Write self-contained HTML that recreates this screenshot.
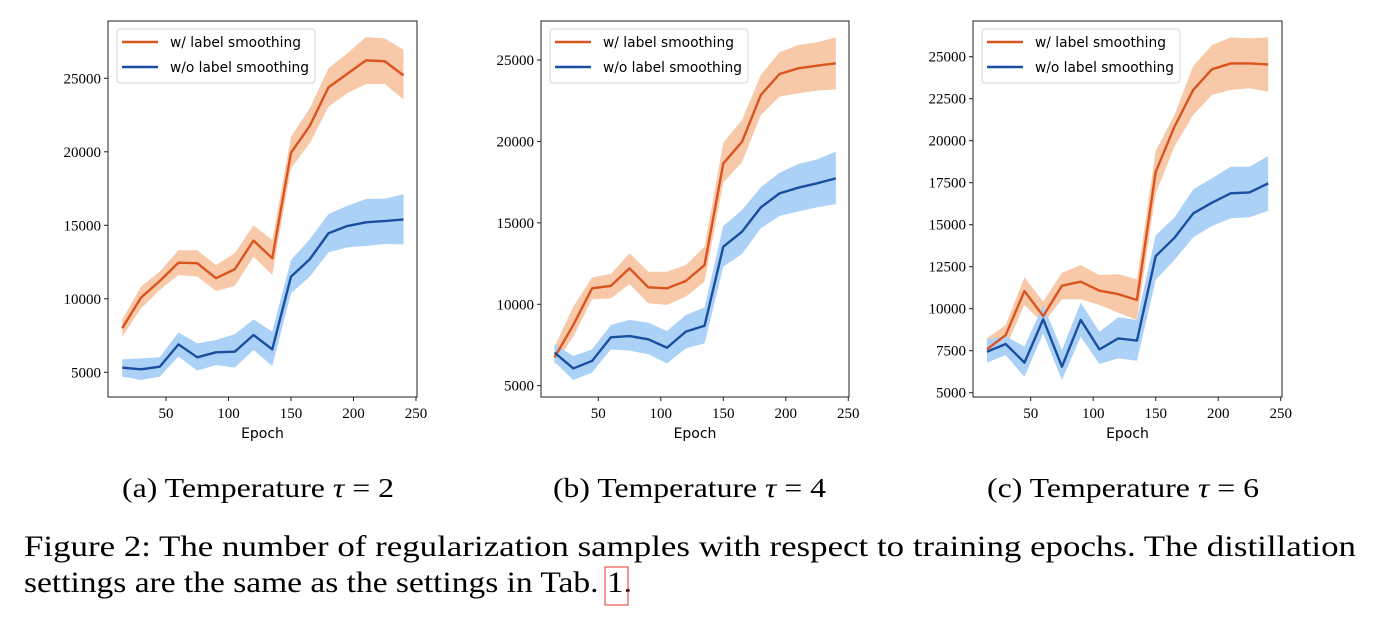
<!DOCTYPE html>
<html><head><meta charset="utf-8">
<style>
html,body{margin:0;padding:0;background:#fff;}
svg{display:block;}
.tick{font-family:"Liberation Serif",serif;font-size:15px;fill:#000;}
.sans{font-family:"DejaVu Sans","Liberation Sans",sans-serif;fill:#000;}
.cap{font-family:"Liberation Serif",serif;fill:#000;}
</style></head>
<body>
<svg id="fig" width="1390" height="626" viewBox="0 0 1390 626" xmlns="http://www.w3.org/2000/svg">
<text class="cap" x="122" y="497" font-size="27" textLength="272" lengthAdjust="spacingAndGlyphs">(a) Temperature <tspan font-style="italic">τ</tspan> = 2</text>
<text class="cap" x="553" y="497" font-size="27" textLength="273" lengthAdjust="spacingAndGlyphs">(b) Temperature <tspan font-style="italic">τ</tspan> = 4</text>
<text class="cap" x="987" y="497" font-size="27" textLength="272" lengthAdjust="spacingAndGlyphs">(c) Temperature <tspan font-style="italic">τ</tspan> = 6</text>
<text class="cap" x="24" y="556" font-size="30" textLength="1332" lengthAdjust="spacingAndGlyphs">Figure 2:  The number of regularization samples with respect to training epochs.  The distillation</text>
<text class="cap" x="24" y="592" font-size="30" textLength="608" lengthAdjust="spacingAndGlyphs">settings are the same as the settings in Tab. 1.</text>
<rect x="605" y="567" width="23" height="38" fill="none" stroke="#e8302a" stroke-width="1"/>
</svg>
<script>
// shared epochs
const epochs = [15,30,45,60,75,90,105,120,135,150,165,180,195,210,225,240];
const xTicks = [50,100,150,200,250];
const seriesNames = ["w/ label smoothing","w/o label smoothing"];
// chart a (tau=2)
const aTicks = [5000,10000,15000,20000,25000];
const aWMean = [8000,10080,11210,12460,12420,11400,12010,13960,12760,19940,21760,24390,25300,26220,26160,25200];
const aWHigh = [8600,10830,11850,13300,13300,12300,13100,15000,14000,21030,22960,25680,26700,27800,27720,26930];
const aWLow  = [7420,9350,10600,11620,11510,10530,10870,12870,11620,18880,20580,23070,23980,24610,24610,23570];
const aOMean = [5320,5200,5380,6900,6020,6360,6400,7540,6560,11510,12690,14460,14950,15200,15290,15400];
const aOHigh = [5880,5950,6020,7720,6970,7200,7590,8600,7770,12640,14050,15770,16320,16790,16810,17110];
const aOLow  = [4710,4480,4710,6070,5110,5500,5320,6520,5430,10370,11510,13160,13500,13590,13730,13700];
// chart b (tau=4)
const bTicks = [5000,10000,15000,20000,25000];
const bWMean = [6740,8730,10980,11130,12210,11040,10980,11430,12410,18650,19980,22850,24140,24490,24650,24800];
const bWHigh = [7400,9850,11650,11860,13130,12000,12000,12410,13540,19920,21320,24080,25470,25920,26080,26390];
const bWLow  = [6270,8010,10300,10360,11240,10060,9960,10470,11390,17470,18720,21620,22750,22950,23120,23200];
const bOMean = [7030,6060,6520,7970,8050,7850,7330,8320,8680,13540,14460,15950,16810,17160,17430,17730];
const bOHigh = [7540,6820,7230,8730,9040,8870,8360,9340,9810,14810,15790,17180,18080,18610,18900,19370];
const bOLow  = [6470,5350,5800,7230,7150,6940,6370,7290,7600,12310,13090,14670,15430,15700,15950,16160];
// chart c (tau=6)
const cTicks = [5000,7500,10000,12500,15000,17500,20000,22500,25000];
const cWMean = [7580,8430,11050,9560,11370,11610,11070,10870,10520,18150,20830,23020,24250,24600,24600,24540];
const cWHigh = [8230,9030,11870,10420,12140,12600,12000,12060,11750,19400,21530,24440,25690,26150,26090,26150];
const cWLow  = [7100,7700,10220,9130,10560,10560,10220,9770,9330,16860,19640,21530,22720,23020,23120,22920];
const cOMean = [7440,7900,6790,9370,6550,9330,7580,8230,8100,13130,14220,15670,16310,16870,16920,17460];
const cOHigh = [8170,8370,7740,10220,7540,10360,8630,9490,9330,14380,15430,17100,17760,18450,18450,19090];
const cOLow  = [6790,7240,5950,8530,5750,8330,6710,7040,6900,11710,12900,14250,14920,15380,15440,15830];

const NS = "http://www.w3.org/2000/svg";
const svg = document.getElementById("fig");
function mk(tag, attrs, parent){
  const e = document.createElementNS(NS, tag);
  for (const k in attrs) e.setAttribute(k, attrs[k]);
  (parent||svg).appendChild(e);
  return e;
}
const ORANGE="#d9541e", ORANGE_BAND="#f7c9a9", BLUE="#1a4f9f", BLUE_BAND="#abd1f7";

function chart(id, box, xs, ys, ticks, wm, wh, wl, om, oh, ol){
  const g = mk("g", {});
  
  
  const X = v => xs.x0 + xs.k * v;
  const Y = v => ys.y0 + (ys.top - v) * ys.k;
  function band(hi, lo, col, name){
    let d = "M" + epochs.map((e,i)=>X(e)+","+Y(hi[i])).join("L");
    d += "L" + epochs.map((e,i)=>X(e)+","+Y(lo[i])).reverse().join("L") + "Z";
    const p = mk("path", {d:d, fill:col, stroke:"none"}, g);
    
    
  }
  function line(m, col, name){
    const p = mk("polyline", {points: epochs.map((e,i)=>X(e)+","+Y(m[i])).join(" "), fill:"none", stroke:col, "stroke-width":2.4, "stroke-linejoin":"round"}, g);
    
    
  }
  band(wh, wl, ORANGE_BAND, "band-with-smoothing");
  band(oh, ol, BLUE_BAND, "band-without-smoothing");
  line(wm, ORANGE, "line-with-smoothing");
  line(om, BLUE, "line-without-smoothing");
  const frame = mk("rect", {x:box.l, y:box.t, width:box.r-box.l, height:box.b-box.t, fill:"none", stroke:"#222", "stroke-width":1}, g);
  
  
  xTicks.forEach(v=>{
    mk("line", {x1:X(v), x2:X(v), y1:box.b, y2:box.b+4, stroke:"#222"}, g);
    const t = mk("text", {x:X(v), y:box.b+21, "text-anchor":"middle", class:"tick"}, g);
    t.textContent = v;
    
    
  });
  ticks.forEach(v=>{
    mk("line", {x1:box.l-4, x2:box.l, y1:Y(v), y2:Y(v), stroke:"#222"}, g);
    const t = mk("text", {x:box.l-7, y:Y(v)+5, "text-anchor":"end", class:"tick"}, g);
    t.textContent = v;
    
    
  });
  const xl = mk("text", {x:(box.l+box.r)/2, y:box.b+41, "text-anchor":"middle", class:"sans", "font-size":14}, g);
  xl.textContent = "Epoch";
  
  
  // legend
  const lg = mk("g", {}, g);
  
  
  mk("rect", {x:box.l+9, y:29, width:198, height:54, rx:3, fill:"#fff", "fill-opacity":0.85, stroke:"#d6d6d6"}, lg);
  [[ORANGE,42],[BLUE,67]].forEach((c,i)=>{
    const le = mk("g", {}, lg);
    
    
    mk("line", {x1:box.l+14, x2:box.l+50, y1:c[1], y2:c[1], stroke:c[0], "stroke-width":2.4}, le);
    const t = mk("text", {x:box.l+62, y:c[1]+5, class:"sans", "font-size":14, textLength: i?139:131, lengthAdjust:"spacingAndGlyphs"}, le);
    t.textContent = seriesNames[i];
  });
}
chart("a", {l:108,r:417,t:21,b:397}, {x0:103.5,k:1.25}, {y0:78.3,top:25000,k:0.0147}, aTicks, aWMean,aWHigh,aWLow,aOMean,aOHigh,aOLow);
chart("b", {l:541,r:849,t:21,b:397}, {x0:535.8,k:1.25}, {y0:60,top:25000,k:0.016285}, bTicks, bWMean,bWHigh,bWLow,bOMean,bOHigh,bOLow);
chart("c", {l:973,r:1282,t:21,b:397}, {x0:968.2,k:1.25}, {y0:56.7,top:25000,k:0.0168}, cTicks, cWMean,cWHigh,cWLow,cOMean,cOHigh,cOLow);
</script>
</body></html>
